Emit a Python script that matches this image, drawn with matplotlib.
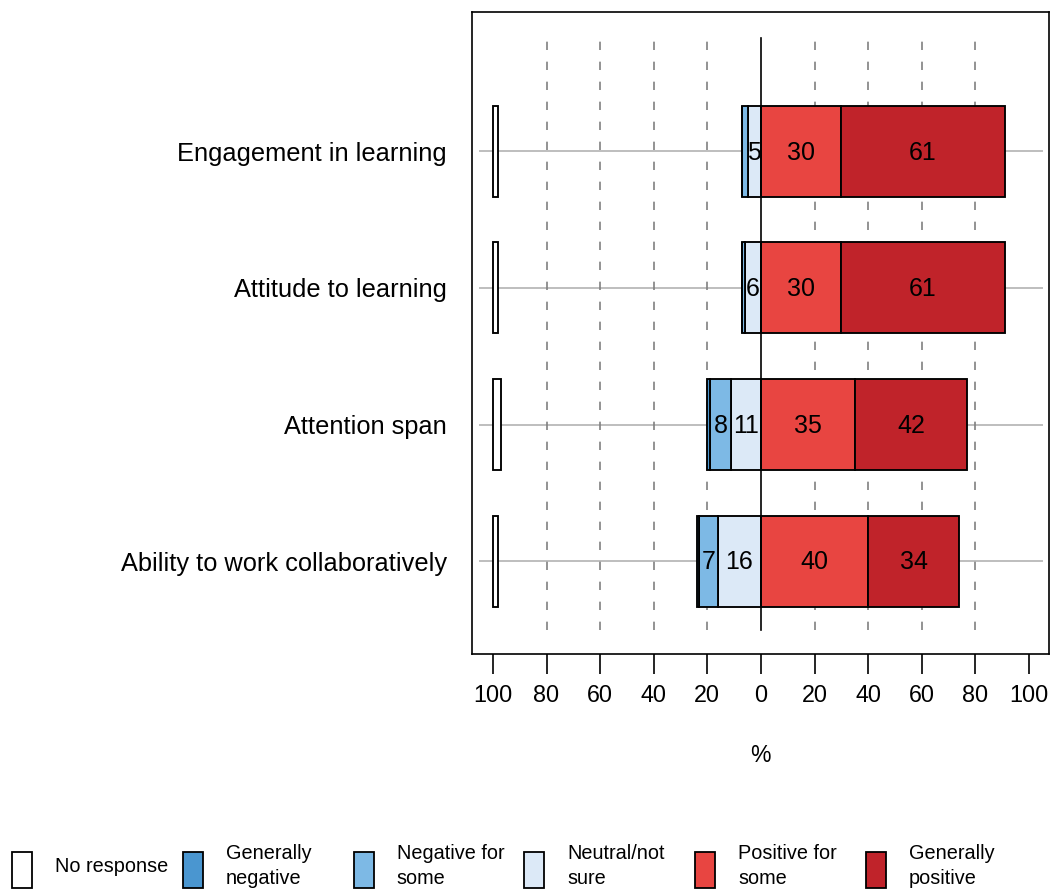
import matplotlib.pyplot as plt
import matplotlib.patches as mpatches
import numpy as np

plt.rcParams['font.family'] = ['Liberation Sans', 'DejaVu Sans']

# data (percent), bottom -> top
questions = ['Ability to work collaboratively', 'Attention span',
             'Attitude to learning', 'Engagement in learning']
no_response = np.array([2, 3, 2, 2])
gen_negative = np.array([1, 1, 0, 0])
neg_some = np.array([7, 8, 1, 2])
neutral = np.array([16, 11, 6, 5])
pos_some = np.array([40, 35, 30, 30])
gen_positive = np.array([34, 42, 61, 61])

levels = ['No response', 'Generally\nnegative', 'Negative for\nsome',
          'Neutral/not\nsure', 'Positive for\nsome', 'Generally\npositive']
colors = ['#FFFFFF', '#4A96D0', '#7DB9E5', '#DCE9F7', '#E84541', '#C0232A']

W, H = 1051, 891
fig = plt.figure(figsize=(W / 100, H / 100), dpi=100)
ax = fig.add_axes([472 / W, 1 - 654 / H, (1049 - 472) / W, (654 - 12) / H])

y = np.arange(1, len(questions) + 1)
bh = 0.666
lw = 1.35

# reference lines
for yy in y:
    ax.plot([-105, 105], [yy, yy], color='#BEBEBE', lw=1.4, zorder=0)
for xv in [-80, -60, -40, -20, 20, 40, 60, 80]:
    ax.plot([xv, xv], [0.495, 4.83], color='#808080', lw=1.2,
            dashes=(5, 7), zorder=0.5)
ax.plot([0, 0], [0.495, 4.83], color='black', lw=1.2, zorder=3)

# no response bar anchored at -100
ax.barh(y, no_response, left=-100, height=bh, color=colors[0],
        edgecolor='black', lw=lw, zorder=2)

# negative side: neutral nearest zero, then negative for some, then generally negative
left = np.zeros(len(y))
for vals, c in [(neutral, colors[3]), (neg_some, colors[2]), (gen_negative, colors[1])]:
    ax.barh(y, -vals, left=-left, height=bh, color=c, edgecolor='black', lw=lw, zorder=2)
    for yy, l, v in zip(y, left, vals):
        if v >= 5:
            ax.text(-(l + v / 2), yy - 0.01, str(v), ha='center', va='center', fontsize=18, zorder=4)
    left = left + vals

left = np.zeros(len(y))
for vals, c in [(pos_some, colors[4]), (gen_positive, colors[5])]:
    ax.barh(y, vals, left=left, height=bh, color=c, edgecolor='black', lw=lw, zorder=2)
    for yy, l, v in zip(y, left, vals):
        if v >= 5:
            ax.text(l + v / 2, yy - 0.01, str(v), ha='center', va='center', fontsize=18, zorder=4)
    left = left + vals

ax.set_xlim(-107.8, 107.5)
ax.set_ylim(0.32, 5.02)
ticks = np.arange(-100, 101, 20)
ax.set_xticks(ticks)
ax.set_xticklabels([str(abs(t)) for t in ticks], fontsize=16.8)
ax.tick_params(axis='x', direction='out', length=14.5, width=1.2, pad=7)
ax.set_yticks(y)
ax.set_yticklabels(questions, fontsize=18.3, va='center_baseline')
ax.tick_params(axis='y', length=0, pad=18)
for s in ax.spines.values():
    s.set_linewidth(1.2)
ax.set_xlabel('%', fontsize=16.5, labelpad=27)

# legend along the bottom
for i, (lab, c) in enumerate(zip(levels, colors)):
    x0 = 12 + 170.8 * i
    fig.patches.append(mpatches.Rectangle((x0 / W, 1 - 888 / H), 20 / W, 36 / H,
                                          transform=fig.transFigure, facecolor=c,
                                          edgecolor='black', lw=1.3))
    fig.text((x0 + 43) / W, 1 - 866 / H, lab, fontsize=14.3, va='center', ha='left',
             linespacing=1.45)

fig.savefig('out.png', dpi=100)
